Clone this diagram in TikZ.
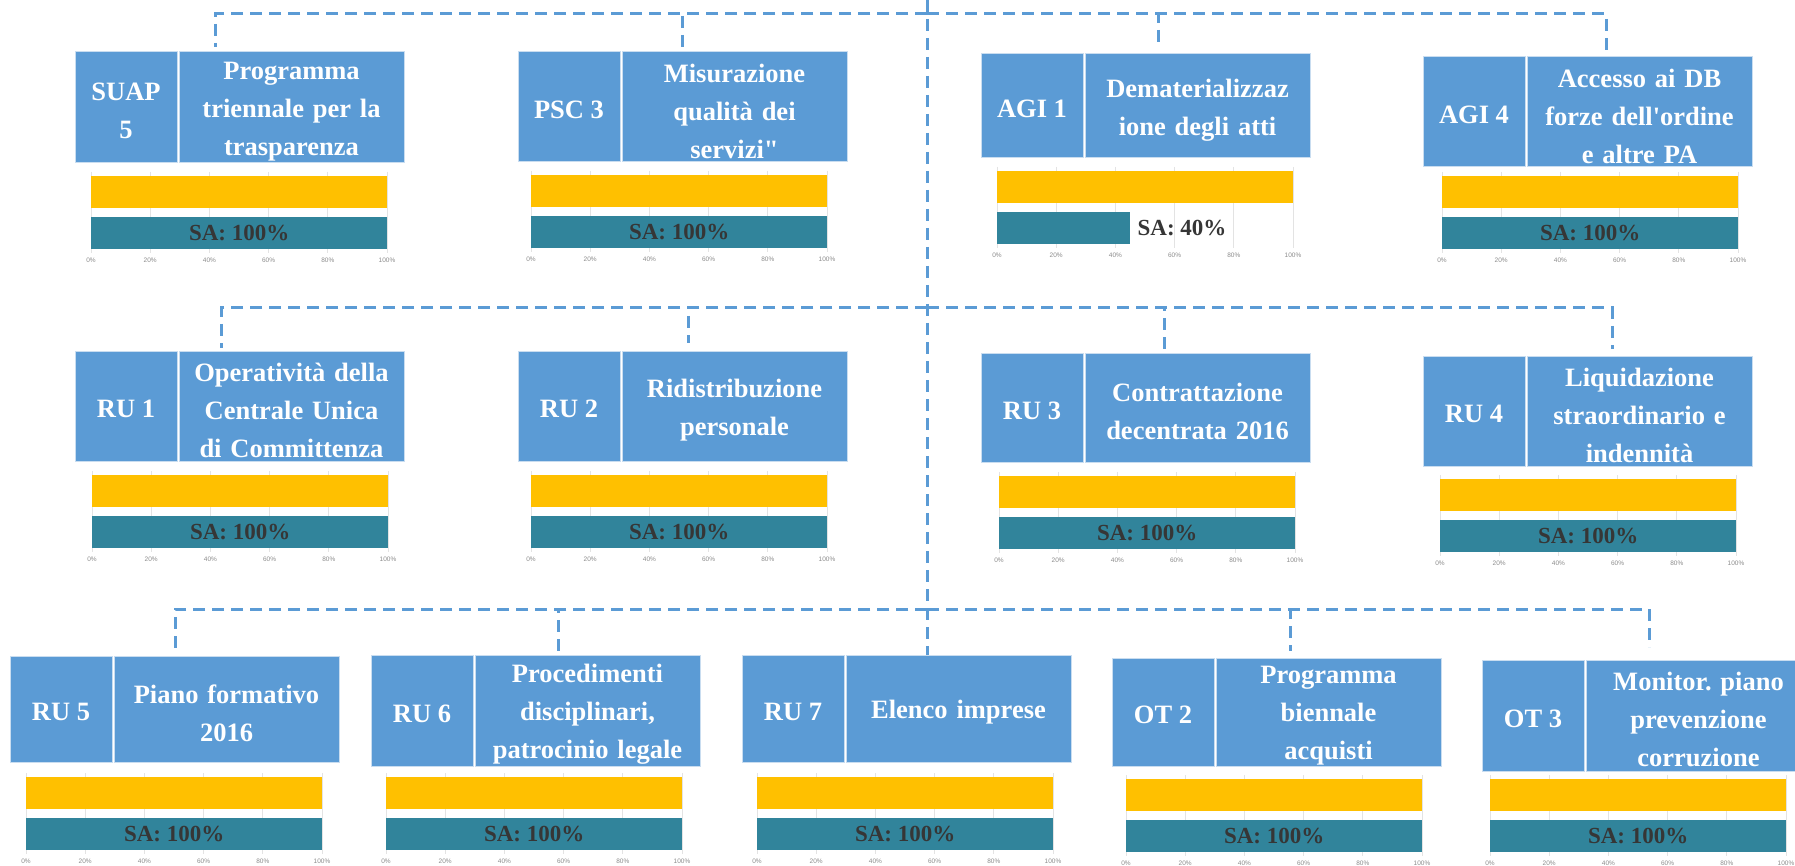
\documentclass[tikz,border=0pt]{standalone}
\usepackage{fontspec}
\setmainfont{Liberation Serif}
\newfontfamily\axisfont{Liberation Sans}
\usetikzlibrary{calc}
\frenchspacing
\definecolor{boxblue}{HTML}{5B9BD5}
\definecolor{boxedge}{HTML}{C9DDF0}
\definecolor{baryellow}{HTML}{FFC000}
\definecolor{barteal}{HTML}{31849B}
\definecolor{satext}{HTML}{363636}
\definecolor{gridgray}{HTML}{E3E3E3}
\definecolor{axisgray}{HTML}{8C8C8C}
\tikzset{
 boxbase/.style={draw=boxedge, line width=1pt, fill=boxblue, inner sep=0pt},
 boxtxt/.style={text=white, font=\fontsize{26.5}{38}\selectfont\bfseries, align=center, inner sep=0pt},
 ybar/.style={fill=baryellow, inner sep=0pt, minimum height=32pt, anchor=north west},
 tbar/.style={fill=barteal, inner sep=0pt, minimum height=32pt, anchor=north west},
 satxt/.style={text=satext, font=\fontsize{23}{26}\selectfont\bfseries, inner sep=0pt},
 gridln/.style={draw=gridgray, line width=0.8pt},
 axlbl/.style={text=axisgray, font=\axisfont\fontsize{6.5}{7.5}\selectfont, inner sep=0pt},
 conn/.style={draw=boxblue, line width=3pt, dash pattern=on 12pt off 7pt},
}
% name, x0, ytop, ybot, label, desc
\newcommand\grpbox[6]{%
 \node[boxbase, minimum width=102pt, minimum height={(#4-#3)*1pt}] (#1-l) at ({#2+51},{(#3+#4)/2}) {};
 \node[boxtxt] (#1-lt) at ([yshift=-3pt]#1-l.center) {#5};
 \node[boxbase, minimum width=225pt, minimum height={(#4-#3)*1pt}] (#1-d) at ({#2+216.5},{(#3+#4)/2}) {};
 \node[boxtxt, text width=221pt] (#1-dt) at ([yshift=-4pt]#1-d.center) {#6};
}
% name, bx, yt, teal width, pct
\newcommand\grpbar[5]{%
 \foreach \i/\t in {0/0,1/20,2/40,3/60,4/80,5/100}{
   \draw[gridln] ({#2+\i*59.2},{#3-4}) -- ({#2+\i*59.2},{#3+77});
   \node[axlbl] (#1-a\i) at ({#2+\i*59.2},{#3+84}) {\t\%};
 }
 \node[ybar, minimum width=296pt] (#1-y) at (#2,#3) {};
 \node[tbar, minimum width={#4*1pt}] (#1-t) at (#2,{#3+41}) {};
 \ifdim #4pt<296pt
   \node[satxt, anchor=west] (#1-s) at ([xshift=7pt]#1-t.east) {SA: #5\%};
 \else
   \node[satxt] (#1-s) at (#1-t.center) {SA: #5\%};
 \fi
}
\begin{document}
\begin{tikzpicture}[x=1pt,y=-1pt]
\useasboundingbox (0,0) rectangle (1795,866);
\clip (0,0) rectangle (1795,866);
\fill[white] (0,0) rectangle (1795,866);

% row 1
\grpbox{suap}{75}{52}{163}{SUAP\\5}{Programma\\triennale per la\\trasparenza}
\grpbar{suap}{91}{176}{296}{100}
\grpbox{psc}{518}{52}{162}{PSC 3}{Misurazione\\qualità dei\\servizi\textquotedbl}
\grpbar{psc}{531}{175}{296}{100}
\grpbox{agia}{981}{54}{158}{AGI 1}{Dematerializzaz\\ione degli atti}
\grpbar{agia}{997}{171}{133}{40}
\grpbox{agib}{1423}{57}{167}{AGI 4}{Accesso ai DB\\forze dell\textquotesingle ordine\\e altre PA}
\grpbar{agib}{1442}{176}{296}{100}

% row 2
\grpbox{rua}{75}{351}{461}{RU 1}{Operatività della\\Centrale Unica\\di Committenza}
\grpbar{rua}{92}{475}{296}{100}
\grpbox{rub}{518}{351}{461}{RU 2}{Ridistribuzione\\personale}
\grpbar{rub}{531}{475}{296}{100}
\grpbox{ruc}{981}{353}{462}{RU 3}{Contrattazione\\decentrata 2016}
\grpbar{ruc}{999}{476}{296}{100}
\grpbox{rud}{1423}{356}{466}{RU 4}{Liquidazione\\straordinario e\\indennità}
\grpbar{rud}{1440}{479}{296}{100}

% row 3
\grpbox{rue}{10}{656}{762}{RU 5}{Piano formativo\\2016}
\grpbar{rue}{26}{777}{296}{100}
\grpbox{ruf}{371}{655}{766}{RU 6}{Procedimenti\\disciplinari,\\patrocinio legale}
\grpbar{ruf}{386}{777}{296}{100}
\grpbox{rug}{742}{655}{762}{RU 7}{Elenco imprese}
\grpbar{rug}{757}{777}{296}{100}
\grpbox{ota}{1112}{658}{766}{OT 2}{Programma\\biennale\\acquisti}
\grpbar{ota}{1126}{779}{296}{100}
\grpbox{otb}{1482}{660}{771}{OT 3}{Monitor. piano\\prevenzione\\corruzione}
\grpbar{otb}{1490}{779}{296}{100}

% connectors
\coordinate (top) at (927,0);
\coordinate (h1) at (927,14);
\coordinate (h2) at (927,308);
\coordinate (h3) at (927,609);
\coordinate (t-suap) at (215,47);
\coordinate (t-psc) at (682,49);
\coordinate (t-agia) at (1158,47);
\coordinate (t-agib) at (1606,55);
\coordinate (t-rua) at (221,348);
\coordinate (t-rub) at (688,343);
\coordinate (t-ruc) at (1164,349);
\coordinate (t-rud) at (1612,349);
\coordinate (t-rue) at (175,649);
\coordinate (t-ruf) at (558,653);
\coordinate (t-ota) at (1290,651);
\coordinate (t-otb) at (1649,647);

\draw[conn] (top) -- (top |- rug-d.north);
\foreach \n in {suap,psc,agia,agib}{\draw[conn] (h1) -| (t-\n);}
\foreach \n in {rua,rub,ruc,rud}{\draw[conn] (h2) -| (t-\n);}
\foreach \n in {rue,ruf,ota,otb}{\draw[conn] (h3) -| (t-\n);}
\end{tikzpicture}
\end{document}
